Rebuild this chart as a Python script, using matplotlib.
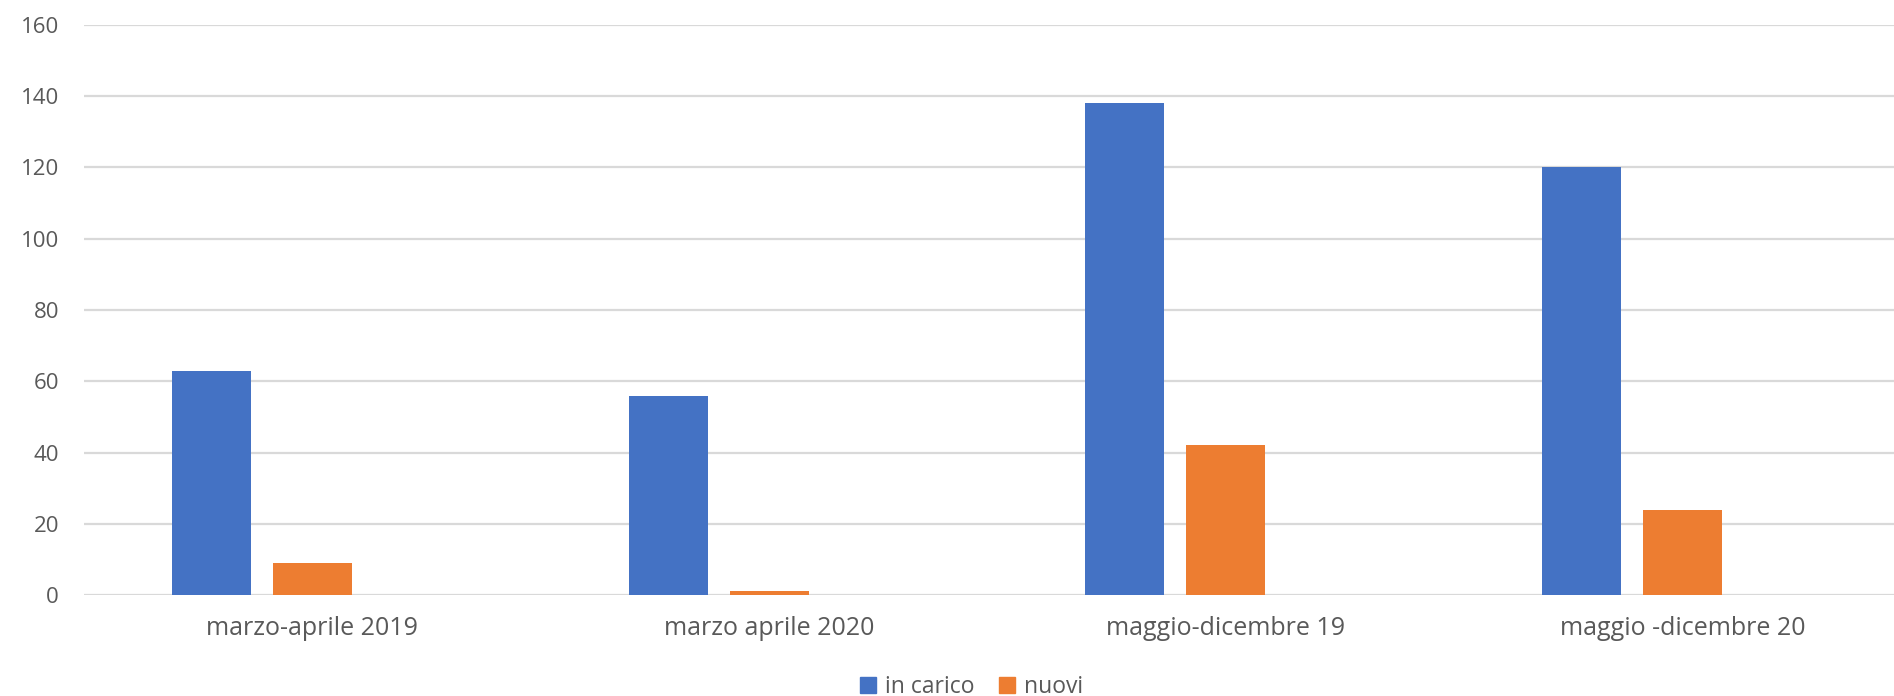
import numpy as np
import matplotlib.pyplot as plt
from matplotlib.patches import Patch

categories = ["marzo-aprile 2019", "marzo aprile 2020", "maggio-dicembre 19", "maggio -dicembre 20"]
in_carico = [63, 56, 138, 120]
nuovi = [9, 1, 42, 24]

blue = "#4472C4"
orange = "#ED7D31"
text_col = "#595959"

plt.rcParams["font.family"] = ["Open Sans", "DejaVu Sans"]

fig = plt.figure(figsize=(18.94, 6.96), dpi=100)
ax = fig.add_axes([0.0443, 0.1451, 0.9646, 0.8190])

x = np.arange(len(categories))
w = 0.173
step = 0.221
ax.bar(x - step, in_carico, w, color=blue, zorder=3)
ax.bar(x, nuovi, w, color=orange, zorder=3)

ax.set_xlim(-0.5, len(categories) - 0.5)
ax.set_ylim(0, 160)
ax.set_yticks(range(0, 161, 20))
ax.set_xticks(x)
ax.set_xticklabels(categories)
ax.yaxis.grid(True, color="#d9d9d9", linewidth=1.6, zorder=0)
ax.tick_params(axis="both", length=0, labelcolor=text_col)
ax.tick_params(axis="y", pad=18, labelsize=16)
ax.tick_params(axis="x", pad=15, labelsize=18)
for s in ax.spines.values():
    s.set_visible(False)

handles = [Patch(color=blue, label="in carico"), Patch(color=orange, label="nuovi")]
fig.legend(handles=handles, loc="center", bbox_to_anchor=(0.513, 0.013), ncol=2,
           frameon=False, fontsize=16.5, labelcolor=text_col,
           handlelength=0.7, handleheight=0.7, handletextpad=0.36, columnspacing=1.1)

fig.savefig("out.png", dpi=100, facecolor="white")
